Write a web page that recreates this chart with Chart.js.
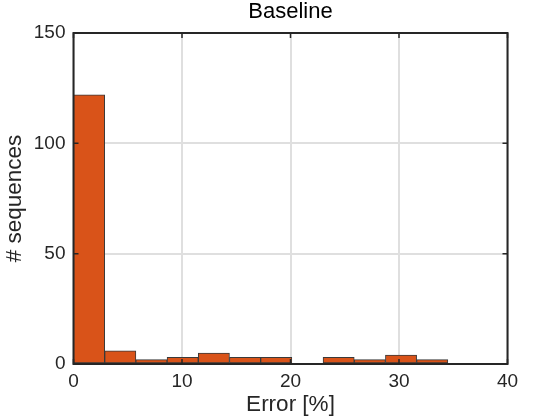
<!DOCTYPE html>
<html>
<head>
<meta charset="utf-8">
<script src="https://cdn.jsdelivr.net/npm/chart.js@4.4.0/dist/chart.umd.min.js"></script>
<style>
    body { margin: 0; background: #fff; }
</style>
</head>
<body>
<canvas id="chartErro" width="560" height="420"></canvas>
<script>
// bordas dos bins (Error [%]) e contagem de cada bin
const binEdges = [0, 2.875, 5.75, 8.625, 11.5, 14.375, 17.25, 20.125, 23, 25.875, 28.75, 31.625, 34.5];
const counts = [122, 6, 2, 3, 5, 3, 3, 0, 3, 2, 4, 2];
const xTicks = [0, 10, 20, 30, 40];
const yTicks = [0, 50, 100, 150];

let pontos = [];
for (let i = 0; i < counts.length; i++) {
    pontos.push({ x: (binEdges[i] + binEdges[i + 1]) / 2, y: counts[i] });
}

// moldura e ticks pra dentro, estilo matlab
const moldura = {
    id: 'moldura',
    afterDatasetsDraw(chart) {
        const { ctx, chartArea: a, scales } = chart;
        ctx.save();
        ctx.strokeStyle = '#262626';
        ctx.lineWidth = 2;
        ctx.strokeRect(a.left, a.top, a.right - a.left, a.bottom - a.top);
        ctx.lineWidth = 1.5;
        ctx.beginPath();
        xTicks.forEach(v => {
            let px = scales.x.getPixelForValue(v);
            ctx.moveTo(px, a.bottom); ctx.lineTo(px, a.bottom - 5);
            ctx.moveTo(px, a.top); ctx.lineTo(px, a.top + 5);
        });
        yTicks.forEach(v => {
            let py = scales.y.getPixelForValue(v);
            ctx.moveTo(a.left, py); ctx.lineTo(a.left + 5, py);
            ctx.moveTo(a.right, py); ctx.lineTo(a.right - 5, py);
        });
        ctx.stroke();
        ctx.restore();
    }
};

const fonte = 'Liberation Sans';

var ctx = document.getElementById('chartErro').getContext('2d');
var erroChart = new Chart(ctx, {
    type: 'bar',
    data: {
        datasets: [{
            data: pontos,
            backgroundColor: '#D95319',
            borderColor: '#3a3a3a',
            borderWidth: 1,
            borderSkipped: false,
            barPercentage: 1,
            categoryPercentage: 1
        }]
    },
    options: {
        responsive: false,
        animation: false,
        layout: { padding: { left: 0, right: 52.5, top: 0, bottom: 0 } },
        plugins: {
            legend: { display: false },
            tooltip: { enabled: false },
            title: { display: false }
        },
        scales: {
            x: {
                type: 'linear',
                min: 0,
                max: 40,
                offset: false,
                afterFit: s => { s.height = 56; },
                grid: { color: '#dfdfdf', lineWidth: 2, drawTicks: false, offset: false },
                border: { display: false },
                ticks: {
                    stepSize: 10,
                    autoSkip: false,
                    color: '#262626',
                    padding: 6,
                    maxRotation: 0,
                    font: { family: fonte, size: 19 }
                },
                title: {
                    display: true,
                    text: 'Error [%]',
                    color: '#262626',
                    font: { family: fonte, size: 22.5 },
                    padding: { top: 0, bottom: 1.5 }
                }
            },
            // eixo de cima so pra servir de titulo centrado no grafico
            topo: {
                type: 'linear',
                position: 'top',
                min: 0,
                max: 40,
                afterFit: s => { s.height = 33; },
                grid: { display: false, drawTicks: false },
                border: { display: false },
                ticks: { display: false },
                title: {
                    display: true,
                    text: 'Baseline',
                    color: '#000',
                    font: { family: fonte, size: 22 },
                    padding: { top: -1, bottom: 0 }
                }
            },
            y: {
                min: 0,
                max: 150,
                afterFit: s => { s.width = 73.5; },
                grid: { color: '#dfdfdf', lineWidth: 2, drawTicks: false },
                border: { display: false },
                ticks: {
                    stepSize: 50,
                    autoSkip: false,
                    color: '#262626',
                    padding: 8,
                    font: { family: fonte, size: 19 }
                },
                title: {
                    display: true,
                    text: '# sequences',
                    color: '#262626',
                    font: { family: fonte, size: 22.5 },
                    padding: { top: 1, bottom: 0 }
                }
            }
        }
    },
    plugins: [moldura]
});
</script>
</body>
</html>
